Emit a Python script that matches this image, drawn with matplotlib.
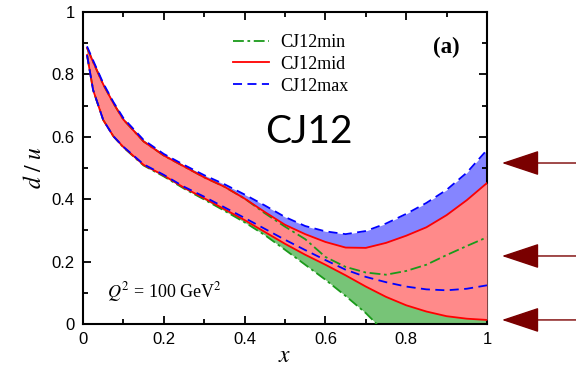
import matplotlib
matplotlib.use("Agg")
import matplotlib.pyplot as plt
from matplotlib.ticker import MultipleLocator, FixedLocator

plt.rcParams['mathtext.fontset'] = 'stix'

# ---- data ----
x = [0.01, 0.025, 0.05, 0.075, 0.1, 0.15, 0.2, 0.25, 0.3, 0.35, 0.4, 0.45, 0.5,
     0.55, 0.6, 0.65, 0.7, 0.75, 0.8, 0.85, 0.9, 0.95, 1.0]

max_hi = [0.89, 0.845, 0.772, 0.712, 0.66, 0.59, 0.545, 0.51, 0.477, 0.448, 0.415,
          0.38, 0.343, 0.314, 0.297, 0.288, 0.298, 0.322, 0.353, 0.388, 0.43, 0.485, 0.558]
max_lo = [0.862, 0.75, 0.654, 0.602, 0.568, 0.512, 0.478, 0.44, 0.408, 0.374, 0.34,
          0.305, 0.27, 0.237, 0.205, 0.174, 0.151, 0.134, 0.12, 0.111, 0.108, 0.113, 0.124]

mid_hi = [0.885, 0.84, 0.768, 0.708, 0.655, 0.585, 0.54, 0.505, 0.47, 0.44, 0.402,
          0.359, 0.318, 0.288, 0.263, 0.245, 0.244, 0.26, 0.283, 0.31, 0.349, 0.397, 0.452]
mid_lo = [0.862, 0.75, 0.654, 0.602, 0.567, 0.51, 0.476, 0.437, 0.403, 0.368, 0.333,
          0.295, 0.257, 0.222, 0.19, 0.156, 0.12, 0.087, 0.06, 0.04, 0.025, 0.017, 0.013]

min_hi = [0.885, 0.84, 0.768, 0.708, 0.655, 0.585, 0.54, 0.505, 0.47, 0.44, 0.402,
          0.355, 0.312, 0.272, 0.215, 0.183, 0.165, 0.158, 0.17, 0.19, 0.221, 0.25, 0.278]
min_lo = [0.862, 0.75, 0.654, 0.602, 0.566, 0.508, 0.473, 0.434, 0.399, 0.363, 0.326,
          0.285, 0.238, 0.19, 0.142, 0.09, 0.035, -0.03, -0.08, -0.13, -0.18, -0.23, -0.28]

series_labels = ["CJ12min", "CJ12mid", "CJ12max"]
xticks = [0, 0.2, 0.4, 0.6, 0.8, 1]
xtick_labels = ["0", "0.2", "0.4", "0.6", "0.8", "1"]
yticks = [0, 0.2, 0.4, 0.6, 0.8, 1]
ytick_labels = ["0", "0.2", "0.4", "0.6", "0.8", "1"]
arrow_y = [0.516, 0.218, 0.013]

# ---- figure ----
W, H = 576, 368
fig = plt.figure(figsize=(W / 100, H / 100), dpi=100)
ax = fig.add_axes([83 / W, 1 - 324 / H, 404 / W, 312 / H])

c_blue_fill = '#8585ff'
c_red_fill = '#ff8a8a'
c_green_fill = '#77c477'

ax.fill_between(x, max_lo, max_hi, color=c_blue_fill, lw=0, zorder=1)
ax.fill_between(x, min_lo, min_hi, color=c_green_fill, lw=0, zorder=2)
ax.fill_between(x, mid_lo, mid_hi, color=c_red_fill, lw=0, zorder=3)

g_style = dict(color='#1a9a1a', lw=1.3, dashes=(6, 2, 1.5, 2), zorder=5)
r_style = dict(color='#ff0000', lw=1.3, ls='-', zorder=6)
b_style = dict(color='#0000ff', lw=1.3, dashes=(5, 3), zorder=7)

ax.plot(x, min_hi, label=series_labels[0], **g_style)
ax.plot(x, min_lo, **g_style)
ax.plot(x, mid_hi, label=series_labels[1], **r_style)
ax.plot(x, mid_lo, **r_style)
ax.plot(x, max_hi, label=series_labels[2], **b_style)
ax.plot(x, max_lo, **b_style)

ax.set_xlim(0, 1)
ax.set_ylim(0, 1)

ax.xaxis.set_major_locator(FixedLocator(xticks))
ax.yaxis.set_major_locator(FixedLocator(yticks))
ax.xaxis.set_minor_locator(MultipleLocator(0.1))
ax.yaxis.set_minor_locator(MultipleLocator(0.1))
ax.set_xticklabels(xtick_labels, family='Liberation Sans', fontsize=12)
ax.set_yticklabels(ytick_labels, family='Liberation Sans', fontsize=12)
ax.tick_params(which='both', direction='in', top=True, right=True, width=1.3)
ax.tick_params(which='major', length=6, pad=6)
ax.tick_params(which='minor', length=3.5)
for s in ax.spines.values():
    s.set_linewidth(1.5)

ax.set_xlabel(r'$x$', fontsize=17, labelpad=-3)
ax.set_ylabel(r'$d\ /\ u$', fontsize=17, labelpad=4)

leg = ax.legend(loc='upper left', bbox_to_anchor=(0.371, 0.93), frameon=False,
                borderpad=0, borderaxespad=0, handlelength=2.0, handletextpad=0.62,
                labelspacing=0.27, prop={'family': 'Liberation Serif', 'size': 13})

ax.text(0.9, 0.885, '(a)', transform=ax.transAxes, ha='center', va='center',
        family='Liberation Serif', fontweight='bold', fontsize=16.5)
ax.text(0.56, 0.615, 'CJ12', transform=ax.transAxes, ha='center', va='center',
        family='Lato', fontsize=28)
ax.text(0.06, 0.103, r'$Q^2$ = 100 GeV$^2$', transform=ax.transAxes, ha='left',
        va='center', family='Liberation Serif', fontsize=13)

for yy in arrow_y:
    ax.annotate('', xy=(1.037, yy), xytext=(1.225, yy), xycoords='data',
                arrowprops=dict(arrowstyle='-|>,head_length=2.4,head_width=0.8',
                                color='#7a0000', lw=1.0, shrinkA=0, shrinkB=0),
                annotation_clip=False)

fig.savefig('out.png', dpi=100)
